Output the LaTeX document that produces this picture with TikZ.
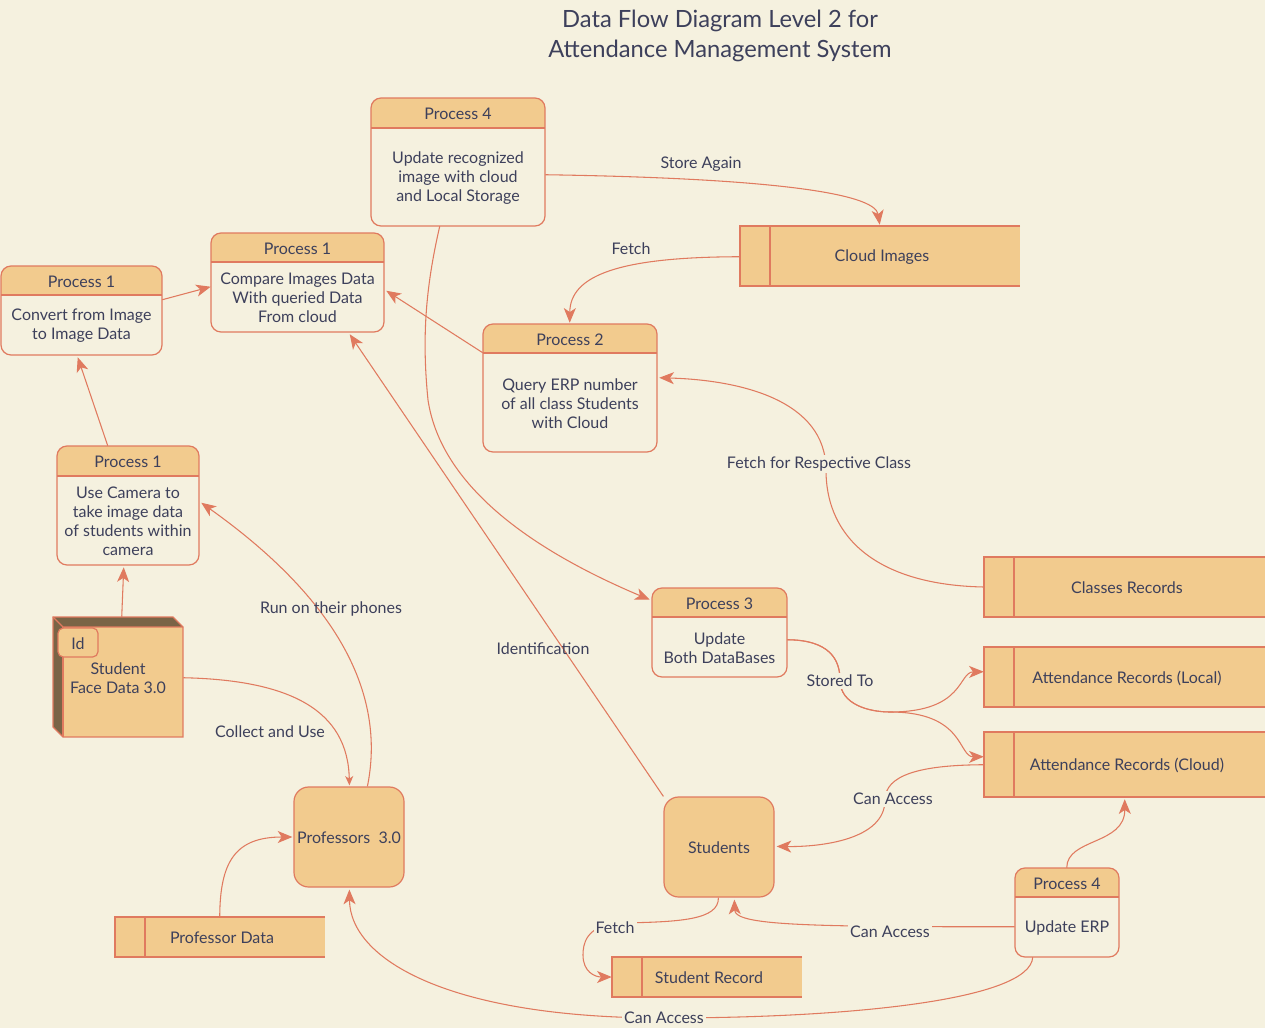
\documentclass[tikz,border=0pt]{standalone}
\usepackage{fontspec}
\setmainfont{Lato}
\usetikzlibrary{arrows.meta,calc,fit}
\definecolor{bgc}{HTML}{F5F1DF}
\definecolor{hdr}{HTML}{F2CB8E}
\definecolor{linec}{HTML}{E07A5F}
\definecolor{ink}{HTML}{3D405B}
\definecolor{cubedark}{HTML}{7A6446}
\tikzset{
  txt/.style={font=\fontsize{12}{14.25}\selectfont, text=ink, align=center, inner sep=0pt},
  lbl/.style={font=\fontsize{12}{14.25}\selectfont, text=ink, fill=bgc, inner sep=1.5pt},
  lblnofill/.style={font=\fontsize{12}{14.25}\selectfont, text=ink, inner sep=1.5pt},
  flow/.style={draw=linec, line width=0.8pt, -{Stealth[length=11pt,width=9pt,inset=3pt]}},
  flowsmall/.style={draw=linec, line width=0.8pt, -{Stealth[length=7pt,width=6pt,inset=2pt]}},
  boxline/.style={draw=linec, line width=0.9pt},
  entity/.style={draw=linec, line width=0.9pt, fill=hdr, rounded corners=11pt, inner sep=0pt},
}
% name, x1, y1, x2, y2, yheader, title, body
\newcommand\procbox[8]{%
  \node[fit={(#2,#3)(#4,#5)}, inner sep=0pt] (#1) {};
  \begin{scope}
    \clip[rounded corners=7.5pt] (#2,#3) rectangle (#4,#5);
    \fill[bgc] (#2,#3) rectangle (#4,#5);
    \fill[hdr] (#2,#3) rectangle (#4,#6);
  \end{scope}
  \draw[boxline, rounded corners=7.5pt] (#2,#3) rectangle (#4,#5);
  \draw[boxline] (#2,#6) -- (#4,#6);
  \node[txt] (#1-t) at ($(#2,#3)!0.5!(#4,#6)+(0,1)$) {#7};
  \node[txt] (#1-b) at ($(#2,#6)!0.5!(#4,#5)+(0,1)$) {#8};
}
% name, x1, y1, x2, y2, text
\newcommand\dstore[6]{%
  \node[fit={(#2,#3)(#4,#5)}, inner sep=0pt, fill=hdr] (#1) {};
  \draw[boxline] (#4,#3) -- (#2,#3) -- (#2,#5) -- (#4,#5);
  \draw[boxline] ($(#2,#3)+(30,0)$) -- ($(#2,#5)+(30,0)$);
  \node[txt] (#1-t) at ($(#1.center)+(2,1)$) {#6};
}
\begin{document}
\begin{tikzpicture}[x=0.75pt,y=-0.75pt]
\useasboundingbox (0,0) rectangle (1265,1028);
\fill[bgc] (0,0) rectangle (1265,1028);

% title
\node[txt, font=\fontsize{17.8}{22}\selectfont] (title) at (720,36) {Data Flow Diagram Level 2 for\\Attendance Management System};

% processes
\procbox{p1a}{1}{266}{162}{355}{295}{Process 1}{Convert from Image\\to Image Data}
\procbox{p1b}{211}{233}{384}{332}{262}{Process 1}{Compare Images Data\\With queried Data\\From cloud}
\procbox{p4a}{371}{98}{545}{226}{128}{Process 4}{Update recognized\\image with cloud\\and Local Storage}
\procbox{p2}{483}{324}{657}{452}{353}{Process 2}{Query ERP number\\of all class Students\\with Cloud}
\procbox{p1c}{57}{446}{199}{565}{476}{Process 1}{Use Camera to\\take image data\\of students within\\camera}
\procbox{p3}{652}{588}{787}{677}{617}{Process 3}{Update\\Both DataBases}
\procbox{p4b}{1015}{868}{1119}{957}{897}{Process 4}{Update ERP}

% data stores
\dstore{cloud}{740}{226}{1020}{286}{Cloud Images}
\dstore{classes}{984}{557}{1266}{617}{Classes Records}
\dstore{alocal}{984}{647}{1266}{707}{Attendance Records (Local)}
\dstore{acloud}{984}{732}{1266}{797}{Attendance Records (Cloud)}
\dstore{pdata}{115}{917}{325}{957}{Professor Data}
\dstore{srec}{612}{957}{802}{997}{Student Record}

% entities
\node[entity, fit={(294,787)(404,887)}] (prof) {};
\node[txt] (prof-t) at ($(prof.center)+(0,1)$) {Professors\ \ 3.0};
\node[entity, fit={(664,797)(774,897)}] (stud) {};
\node[txt] (stud-t) at ($(stud.center)+(0,1)$) {Students};

% cube
\node[fit={(53,617)(183,737)}, inner sep=0pt] (cube) {};
\fill[cubedark] (53,617) -- (173,617) -- (183,627) -- (63,627) -- cycle;
\fill[cubedark] (53,617) -- (63,627) -- (63,737) -- (53,727) -- cycle;
\fill[hdr] (63,627) rectangle (183,737);
\draw[boxline] (53,617) -- (173,617) -- (183,627) -- (183,737) -- (63,737) -- (53,727) -- cycle;
\draw[boxline] (53,617) -- (63,627) -- (183,627);
\draw[boxline] (63,627) -- (63,737);
\node[draw=linec, line width=0.9pt, fill=hdr, rounded corners=4pt, fit={(58,628)(98,657)}, inner sep=0pt] (idbox) {};
\node[txt] (id-t) at ($(idbox.center)+(0,1)$) {Id};
\node[txt] (cube-t) at (118,678) {Student\\Face Data 3.0};

% connectors
\draw[flow] ($(p1c.north west)+(51,0)$) -- ($(p1a.south west)+(77,2)$);
\draw[flow] ($(p1a.north east)+(0,34)$) -- ($(p1b.north west)+(0,54)$);
\draw[flow] ($(cube.north west)+(69,0)$) -- ($(p1c.south west)+(67,2)$);
\draw[flowsmall] ($(cube.north east)+(0,61)$) .. controls (290,680) and (348,710) .. ($(prof.north west)+(56,-1)$);
\draw[flow] ($(prof.north west)+(74,0)$) .. controls (385,700) and (345,605) .. ($(p1c.north east)+(2,57)$);
\draw[flow] ($(pdata.north west)+(105,0)$) .. controls (220,862) and (235,837) .. ($(prof.west)+(-1,0)$);
\draw[flow] ($(p4a.south west)+(69,0)$) .. controls (425,290) and (422,340) .. (428,400) .. controls (440,480) and (520,545) .. ($(p3.north west)+(-2,12)$);
\draw[flow] ($(p4a.north east)+(0,77)$) .. controls (760,178) and (875,192) .. ($(cloud.north west)+(140,-1)$);
\draw[flow] ($(cloud.north west)+(0,31)$) .. controls (620,257) and (570,275) .. ($(p2.north west)+(87,-1)$);
\draw[flow] ($(p2.north west)+(0,29)$) -- ($(p1b.north east)+(2,58)$);
\draw[flow] (stud.north west) -- ($(p1b.south west)+(139,2)$);
\draw[flow] (classes.west) .. controls (880,585) and (826,540) .. (826,470) .. controls (826,400) and (740,380) .. ($(p2.north east)+(2,54)$);
\draw[flow] ($(p3.north east)+(0,52)$) .. controls (830,640) and (840,660) .. (840,680) .. controls (840,705) and (870,712) .. (890,712) .. controls (965,712) and (958,672) .. ($(alocal.north west)+(0,25)$);
\draw[flow] ($(p3.north east)+(0,52)$) .. controls (830,640) and (840,660) .. (840,680) .. controls (840,705) and (870,712) .. (890,712) .. controls (965,712) and (958,757) .. ($(acloud.north west)+(0,25)$);
\draw[flow] ($(acloud.north west)+(0,33)$) .. controls (920,765) and (885,775) .. (885,800) .. controls (885,840) and (820,847) .. ($(stud.north east)+(2,50)$);
\draw[flow] ($(p4b.north west)+(52,0)$) .. controls (1067,838) and (1125,845) .. ($(acloud.south west)+(141,2)$);
\draw[flow] ($(p4b.north west)+(0,59)$) .. controls (800,927) and (735,925) .. ($(stud.south west)+(71,2)$);
\draw[flow] ($(stud.south west)+(55,0)$) .. controls (719,920) and (680,922) .. (620,923) .. controls (585,925) and (583,945) .. (583,955) .. controls (583,972) and (595,977) .. (srec.west);
\draw[flow] ($(p4b.south west)+(18,0)$) .. controls (1030,1000) and (850,1018) .. (664,1018) .. controls (450,1018) and (350,960) .. ($(prof.south west)+(56,2)$);

% labels
\node[lbl] (l1) at (701,164) {Store Again};
\node[lbl] (l2) at (631,249) {Fetch};
\node[lbl] (l3) at (819,464) {Fetch for Respective Class};
\node[lblnofill] (l4) at (543,649) {Identification};
\node[lblnofill] (l5) at (331,609) {Run on their phones};
\node[lbl] (l6) at (270,732) {Collect and Use};
\node[lbl] (l7) at (840,681) {Stored To};
\node[lbl] (l8) at (893,799) {Can Access};
\node[lbl] (l9) at (890,932) {Can Access};
\node[lbl] (l10) at (615,928) {Fetch};
\node[lbl] (l11) at (664,1018) {Can Access};
\end{tikzpicture}
\end{document}
